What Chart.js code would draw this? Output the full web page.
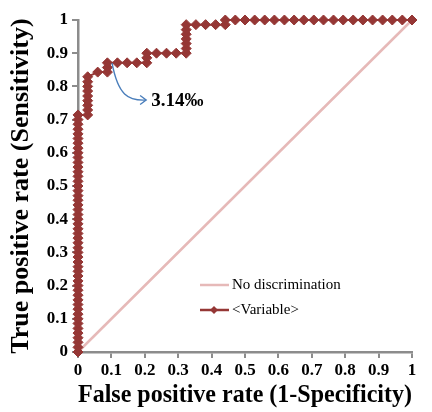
<!DOCTYPE html>
<html>
<head>
<meta charset="utf-8">
<script src="https://cdn.jsdelivr.net/npm/chart.js@4.4.1/dist/chart.umd.min.js"></script>
<style>
  html, body { margin: 0; padding: 0; background: #ffffff; }
  #wrap { width: 432px; height: 412px; }
</style>
</head>
<body>
<div id="wrap"><canvas id="c" width="432" height="412"></canvas></div>
<script>
// ---- data ----
const rocLabel = '<Variable>';
const diagLabel = 'No discrimination';
const rocFpr = [
  0,0,0,0,0,0,0,0,0,0, 0,0,0,0,0,0,0,0,0,0,
  0,0,0,0,0,0,0,0,0,0, 0,0,0,0,0,0,0,0,0,0,
  0,0,0,0,0,0,0,0,0,0, 0,
  0.029,0.029,0.029,0.029,0.029,0.029,0.029,0.029,0.029,
  0.059,0.088,0.088,0.088,0.118,0.147,0.176,0.206,0.206,0.206,
  0.235,0.265,0.294,0.324,0.324,0.324,0.324,0.324,0.324,0.324,
  0.353,0.382,0.412,0.441,0.441,
  0.471,0.500,0.529,0.559,0.588,0.618,0.647,0.676,0.706,0.735,
  0.765,0.794,0.824,0.853,0.882,0.912,0.941,0.971,1.000
];
const rocTpr = [
  0,0.014,0.029,0.043,0.057,0.071,0.086,0.100,0.114,0.129,
  0.143,0.157,0.171,0.186,0.200,0.214,0.229,0.243,0.257,0.271,
  0.286,0.300,0.314,0.329,0.343,0.357,0.371,0.386,0.400,0.414,
  0.429,0.443,0.457,0.471,0.486,0.500,0.514,0.529,0.543,0.557,
  0.571,0.586,0.600,0.614,0.629,0.643,0.657,0.671,0.686,0.700,
  0.714,
  0.714,0.729,0.743,0.757,0.771,0.786,0.800,0.814,0.829,
  0.843,0.843,0.857,0.871,0.871,0.871,0.871,0.871,0.886,0.900,
  0.900,0.900,0.900,0.900,0.914,0.929,0.943,0.957,0.971,0.986,
  0.986,0.986,0.986,0.986,1.000,
  1,1,1,1,1,1,1,1,1,1,
  1,1,1,1,1,1,1,1,1
];
const diagFpr = [0, 1];
const diagTpr = [0, 1];
const xTickLabels = ['0','0.1','0.2','0.3','0.4','0.5','0.6','0.7','0.8','0.9','1'];
const yTickLabels = ['0','0.1','0.2','0.3','0.4','0.5','0.6','0.7','0.8','0.9','1'];
const annotationText = '3.14\u2030';
// annotation anchor in data coordinates: arrow start, control points, end, text
const arrowStart = [0.102, 0.870];
const arrowCp1 = [0.120, 0.774];
const arrowCp2 = [0.150, 0.756];
const arrowEnd = [0.204, 0.759];
const textAt = [0.219, 0.759];

// ---- styles ----
const rocColor = '#953735';
const diagColor = '#E6B9B8';
const axisColor = '#8C8C8C';
const serif = "'Liberation Serif', 'Times New Roman', serif";

const rocPoints = rocFpr.map((x, i) => ({ x: x, y: rocTpr[i] }));
const diagPoints = diagFpr.map((x, i) => ({ x: x, y: diagTpr[i] }));

const extras = {
  id: 'extras',
  afterDatasetsDraw(chart) {
    const ctx = chart.ctx;
    const xs = chart.scales.x, ys = chart.scales.y;
    const P = (p) => [xs.getPixelForValue(p[0]), ys.getPixelForValue(p[1])];
    const s = P(arrowStart), c1 = P(arrowCp1), c2 = P(arrowCp2), e = P(arrowEnd), t = P(textAt);
    ctx.save();
    // arrow
    ctx.strokeStyle = '#4A7EBB';
    ctx.lineWidth = 1.4;
    ctx.beginPath();
    ctx.moveTo(s[0], s[1]);
    ctx.bezierCurveTo(c1[0], c1[1], c2[0], c2[1], e[0], e[1]);
    ctx.stroke();
    ctx.beginPath();
    ctx.moveTo(e[0] - 6, e[1] - 4.5);
    ctx.lineTo(e[0], e[1]);
    ctx.lineTo(e[0] - 6, e[1] + 4.5);
    ctx.stroke();
    // annotation text
    ctx.fillStyle = '#000';
    ctx.font = "bold 19px " + serif;
    ctx.textAlign = 'left';
    ctx.textBaseline = 'middle';
    ctx.fillText(annotationText, t[0], t[1] + 1);

    // legend
    const area = chart.chartArea;
    const lx = area.left + 122, ly1 = area.top + 265, ly2 = area.top + 290;
    ctx.lineWidth = 2.5;
    ctx.strokeStyle = diagColor;
    ctx.beginPath(); ctx.moveTo(lx, ly1); ctx.lineTo(lx + 29, ly1); ctx.stroke();
    ctx.strokeStyle = rocColor;
    ctx.lineWidth = 2.5;
    ctx.beginPath(); ctx.moveTo(lx, ly2); ctx.lineTo(lx + 29, ly2); ctx.stroke();
    ctx.fillStyle = rocColor;
    ctx.beginPath();
    const mx = lx + 14, r = 4;
    ctx.moveTo(mx, ly2 - r); ctx.lineTo(mx + r, ly2); ctx.lineTo(mx, ly2 + r); ctx.lineTo(mx - r, ly2);
    ctx.closePath(); ctx.fill();
    ctx.fillStyle = '#000';
    ctx.font = "15px " + serif;
    ctx.fillText(chart.data.datasets[0].label, lx + 32, ly1);
    ctx.fillText(chart.data.datasets[1].label, lx + 32, ly2);
    ctx.restore();
  }
};

new Chart(document.getElementById('c'), {
  type: 'scatter',
  data: {
    datasets: [
      {
        label: diagLabel,
        data: diagPoints,
        showLine: true,
        borderColor: diagColor,
        borderWidth: 2.5,
        pointRadius: 0,
        order: 2,
        clip: false
      },
      {
        label: rocLabel,
        data: rocPoints,
        showLine: true,
        borderColor: rocColor,
        borderWidth: 2,
        backgroundColor: rocColor,
        pointStyle: 'rectRot',
        pointRadius: 5,
        pointBorderWidth: 1,
        pointBorderColor: rocColor,
        pointBackgroundColor: rocColor,
        order: 1,
        clip: false
      }
    ]
  },
  options: {
    responsive: false,
    animation: false,
    devicePixelRatio: 1,
    layout: { padding: { left: 0, right: 20, top: 20, bottom: 0 } },
    plugins: {
      legend: { display: false },
      tooltip: { enabled: false }
    },
    scales: {
      x: {
        type: 'linear',
        min: 0, max: 1,
        afterFit(scale) { scale.height = 60; },
        border: { display: true, color: axisColor, width: 2.5 },
        grid: { display: true, drawOnChartArea: false, drawTicks: true, tickLength: 6, color: axisColor, lineWidth: 2 },
        ticks: {
          stepSize: 0.1,
          autoSkip: false,
          maxRotation: 0,
          padding: 2,
          color: '#000',
          font: { family: serif, size: 17, weight: 'bold' },
          callback: (v, i) => xTickLabels[i]
        },
        title: {
          display: true,
          text: 'False positive rate (1-Specificity)',
          color: '#000',
          font: { family: serif, size: 26, weight: 'bold' },
          padding: { top: 0, bottom: 1 }
        }
      },
      y: {
        type: 'linear',
        min: 0, max: 1,
        afterFit(scale) { scale.width = 78; },
        border: { display: true, color: axisColor, width: 2.5 },
        grid: { display: true, drawOnChartArea: false, drawTicks: true, tickLength: 6, color: axisColor, lineWidth: 2 },
        ticks: {
          stepSize: 0.1,
          autoSkip: false,
          padding: 4,
          color: '#000',
          font: { family: serif, size: 17, weight: 'bold' },
          callback: (v, i) => yTickLabels[i]
        },
        title: {
          display: true,
          text: 'True positive rate (Sensitivity)',
          color: '#000',
          font: { family: serif, size: 26, weight: 'bold' },
          padding: { top: 6, bottom: 0 }
        }
      }
    }
  },
  plugins: [extras]
});
</script>
</body>
</html>
